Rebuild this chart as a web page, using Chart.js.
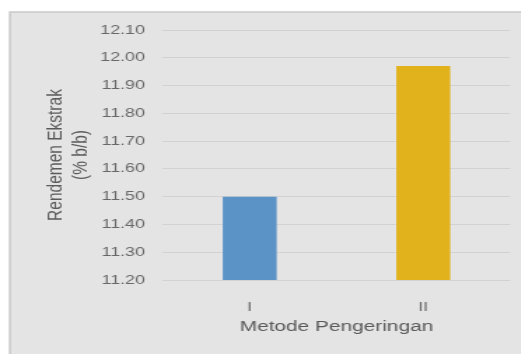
<!DOCTYPE html>
<html>
<head>
<meta charset="utf-8">
<script src="https://cdn.jsdelivr.net/npm/chart.js@4/dist/chart.umd.min.js"></script>
<style>
  html, body { margin: 0; padding: 0; background: #ffffff; overflow: hidden; }
  /* the chart is laid out narrow and widened horizontally */
  #wrap { width: 372px; height: 354px; transform: scaleX(1.4); transform-origin: 0 0; }
</style>
</head>
<body>
<div id="wrap"><canvas id="chart" width="372" height="354"></canvas></div>
<script>
// Extraction yield per drying method
const categories = ['I', 'II'];
const rendemen = [11.50, 11.97];
const barColors = ['#5b93c6', '#e2b21c'];

// Value axis range and step
const yMin = 11.2;
const yMax = 12.1;
const yStep = 0.1;

const axisTitleY = ['Rendemen Ekstrak', '(% b/b)'];
const axisTitleX = 'Metode Pengeringan';

const FONT = "'Liberation Sans', Arial, sans-serif";

// grey panel behind the plot
const panel = {
  id: 'panel',
  beforeDraw(chart) {
    const ctx = chart.ctx;
    ctx.save();
    ctx.fillStyle = '#e4e4e4';
    ctx.fillRect(7.1, 12, chart.width - 7.1, chart.height - 12);
    ctx.strokeStyle = '#c9c9c9';
    ctx.lineWidth = 1.5;
    ctx.beginPath();
    ctx.moveTo(7.1, chart.height);
    ctx.lineTo(7.1, 12);
    ctx.lineTo(chart.width, 12);
    ctx.stroke();
    ctx.restore();
  }
};

new Chart(document.getElementById('chart'), {
  type: 'bar',
  data: {
    labels: categories,
    datasets: [{
      data: rendemen,
      backgroundColor: barColors,
      borderWidth: 0,
      barPercentage: 0.311,
      categoryPercentage: 1
    }]
  },
  options: {
    responsive: false,
    animation: false,
    devicePixelRatio: 1,
    layout: { padding: { left: 0, top: 30, right: 7.7, bottom: 14 } },
    plugins: { legend: { display: false }, tooltip: { enabled: false } },
    scales: {
      x: {
        grid: { display: false },
        border: { display: false },
        ticks: { color: '#686868', padding: 12, font: { family: FONT, size: 12.8 } },
        title: {
          display: true,
          text: axisTitleX,
          color: '#5a5a5a',
          font: { family: FONT, size: 14.9, lineHeight: '18px' },
          padding: { top: 10, bottom: 4 }
        },
        afterFit(scale) { scale.height = 60; }
      },
      y: {
        min: yMin,
        max: yMax,
        grid: { color: '#d2d2d2', lineWidth: 1, drawTicks: false },
        border: { display: false },
        ticks: {
          stepSize: yStep,
          padding: 12.8,
          color: '#686868',
          font: { family: FONT, size: 12.8 },
          callback: v => Number(v).toFixed(2)
        },
        title: {
          display: true,
          text: axisTitleY,
          color: '#5a5a5a',
          font: { family: FONT, size: 15.5, lineHeight: '18px' },
          padding: { top: 31, bottom: 0 }
        },
        afterFit(scale) { scale.width = 116.4; }
      }
    }
  },
  plugins: [panel]
});
</script>
</body>
</html>
